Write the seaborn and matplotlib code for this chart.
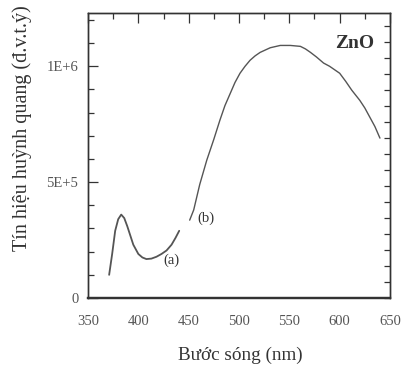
import matplotlib
matplotlib.use("Agg")
import matplotlib.pyplot as plt
from matplotlib.ticker import MultipleLocator
import seaborn as sns
import pandas as pd

# Curve (a)
wl_a = [371, 374, 377, 380, 383, 386, 389, 392, 395, 400, 404, 408, 413, 418, 423, 428, 433, 437, 440.6]
sig_a = [0.10e6, 0.19e6, 0.29e6, 0.34e6, 0.36e6, 0.345e6, 0.31e6, 0.27e6, 0.23e6, 0.19e6, 0.175e6, 0.168e6, 0.170e6, 0.178e6, 0.19e6, 0.205e6, 0.23e6, 0.26e6, 0.29e6]

# Curve (b)
wl_b = [451, 455, 461, 468, 475, 481, 486, 491, 496, 501, 506, 511, 516, 521, 526, 531, 536, 541, 546, 551, 556,
        561, 566, 571, 577, 584, 590, 595, 600, 606, 612, 616, 620, 625, 630, 635, 640]
sig_b = [0.336e6, 0.38e6, 0.49e6, 0.595e6, 0.685e6, 0.767e6, 0.83e6, 0.88e6, 0.93e6, 0.97e6, 1.0e6, 1.026e6, 1.045e6,
         1.06e6, 1.07e6, 1.08e6, 1.085e6, 1.09e6, 1.09e6, 1.09e6, 1.088e6,
         1.086e6, 1.075e6, 1.06e6, 1.04e6, 1.014e6, 1.0e6, 0.985e6, 0.97e6, 0.935e6, 0.897e6, 0.875e6, 0.853e6, 0.82e6, 0.78e6, 0.74e6, 0.69e6]

x_ticks = [350, 400, 450, 500, 550, 600, 650]
y_ticks = [0, 5e5, 1e6]
y_tick_labels = ["0", "5E+5", "1E+6"]

sns.set_theme(style="white")
plt.rcParams['font.family'] = ['Liberation Serif', 'DejaVu Serif']

fig = plt.figure(figsize=(4.06, 3.68), dpi=100)
ax = fig.add_axes([88/406, 1-298/368, (390-88)/406, (298-13)/368])

line_color = "#555555"
df_a = pd.DataFrame({"wl": wl_a, "sig": sig_a})
df_b = pd.DataFrame({"wl": wl_b, "sig": sig_b})
sns.lineplot(data=df_a, x="wl", y="sig", ax=ax, color=line_color, lw=1.3)
sns.lineplot(data=df_b, x="wl", y="sig", ax=ax, color=line_color, lw=1.0)

ax.set_xlim(350, 650)
ax.set_ylim(0, 1.23e6)
ax.set_xticks(x_ticks)
ax.set_xticklabels([str(t) for t in x_ticks])
ax.xaxis.set_minor_locator(MultipleLocator(25))
ax.set_yticks(y_ticks)
ax.set_yticklabels(y_tick_labels)
ax.yaxis.set_minor_locator(MultipleLocator(1e5))

tc = "#555555"
ax.tick_params(axis="both", which="major", direction="in", length=7, width=0.9, color="#333333",
               labelsize=10.5, labelcolor=tc, top=True, right=False, pad=7)
ax.tick_params(axis="both", which="minor", direction="in", length=4, width=0.9, color="#333333",
               top=True, right=False)
ax.tick_params(axis="x", which="major", pad=12)

# right-side ticks with their own spacing
ax2 = ax.twinx()
ax2.set_ylim(0, 1.23e6)
ax2.yaxis.set_major_locator(MultipleLocator(0.069e6))
ax2.tick_params(axis="y", direction="in", length=4, width=0.9, color="#333333", labelright=False)

for a in (ax, ax2):
    for s in a.spines.values():
        s.set_color("#333333")
        s.set_linewidth(1.0)
    a.spines["bottom"].set_linewidth(1.6)

ax.set_xlabel("")
ax.set_ylabel("")
fig.text(240/406, 1-355/368, "Bước sóng (nm)", ha="center", va="center", fontsize=13.8, color="#333333")
fig.text(22/406, 1-128/368, "Tín hiệu huỳnh quang (đ.v.t.ý)", ha="center", va="center",
         rotation=90, fontsize=14.5, color="#333333")

ax.text(433, 0.164e6, "(a)", fontsize=10.5, color="#333333", va="center", ha="center")
ax.text(459, 0.345e6, "(b)", fontsize=10.5, color="#333333", va="center", ha="left")
ax.text(615, 1.1e6, "ZnO", fontsize=14, fontweight="bold", color="#333333", va="center", ha="center")

fig.savefig("out.png", dpi=100)
